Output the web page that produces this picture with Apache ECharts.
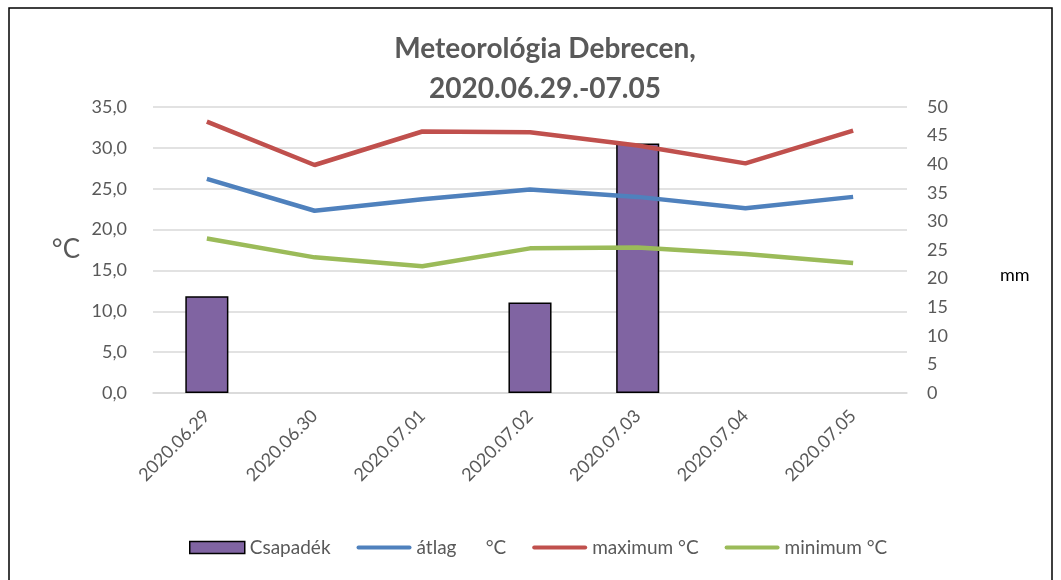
<!DOCTYPE html>
<html>
<head>
<meta charset="utf-8">
<script src="https://cdn.jsdelivr.net/npm/echarts@6/dist/echarts.min.js"></script>
<style>
html, body { margin: 0; padding: 0; background: #fff; }
#chart { width: 1061px; height: 580px; }
</style>
</head>
<body>
<div id="chart"></div>
<script>
const days = ['2020.06.29', '2020.06.30', '2020.07.01', '2020.07.02', '2020.07.03', '2020.07.04', '2020.07.05'];
const csapadek = [16.9, 0, 0, 15.8, 43.6, 0, 0];
const atlag = [26.2, 22.3, 23.7, 24.9, 24.0, 22.6, 24.0];
const maximum = [33.2, 27.9, 32.0, 31.9, 30.3, 28.1, 32.1];
const minimum = [18.9, 16.6, 15.5, 17.7, 17.8, 17.0, 15.9];
const names = ['Csapadék', 'átlag      °C', 'maximum °C', 'minimum °C'];

const font = 'Lato, "Open Sans", sans-serif';
const gray = '#595959';
// vastag vonal a jelmagyarázatban, a doboz magassága 12
const lineIcon = 'path://M0,0 M55,12 M2,4 L53,4 A2,2 0 0 1 53,8 L2,8 A2,2 0 0 1 2,4 Z';

let chart = echarts.init(document.getElementById('chart'));
const opt = {
	animation: false,
	textStyle: { fontFamily: font },
	title: {
		text: 'Meteorológia Debrecen,\n2020.06.29.-07.05',
		left: 540,
		textAlign: 'center',
		top: 24,
		textStyle: {
			fontFamily: font,
			fontSize: 28,
			fontWeight: 'bold',
			color: gray,
			lineHeight: 40
		}
	},
	graphic: [
		{
			type: 'rect',
			shape: { x: 9, y: 8, width: 1043, height: 600 },
			style: { fill: 'none', stroke: '#000', lineWidth: 1.5 },
			silent: true
		}
	],
	legend: {
		bottom: 18,
		left: 184,
		itemWidth: 55,
		itemHeight: 12,
		itemGap: 26,
		textStyle: { fontFamily: font, fontSize: 19, color: gray },
		data: [
			{ name: names[0], icon: 'rect', itemStyle: { borderColor: '#000', borderWidth: 1.5 } },
			{ name: names[1], icon: lineIcon },
			{ name: names[2], icon: lineIcon },
			{ name: names[3], icon: lineIcon }
		]
	},
	grid: { left: 153, right: 154, top: 107, bottom: 187 },
	xAxis: {
		type: 'category',
		data: days,
		axisLine: { lineStyle: { color: '#d9d9d9', width: 1.5 } },
		axisTick: { show: false },
		axisLabel: {
			rotate: 45,
			margin: 20,
			fontSize: 18,
			color: gray,
			fontFamily: font
		}
	},
	yAxis: [
		{
			type: 'value',
			min: 0,
			max: 35,
			interval: 5,
			name: '°C',
			nameLocation: 'middle',
			nameRotate: 0,
			nameGap: 73,
			nameTextStyle: { fontSize: 26, color: gray, fontFamily: font },
			axisLine: { show: false },
			axisTick: { show: false },
			splitLine: { lineStyle: { color: '#d9d9d9', width: 1.5 } },
			axisLabel: {
				margin: 26,
				fontSize: 18,
				color: gray,
				fontFamily: font,
				formatter: v => v.toFixed(1).replace('.', ',')
			}
		},
		{
			type: 'value',
			min: 0,
			max: 50,
			interval: 5,
			name: '\nmm',
			nameLocation: 'middle',
			nameRotate: 0,
			nameGap: 93,
			nameTextStyle: { fontSize: 18, color: '#000', fontFamily: font, lineHeight: 50 },
			axisLine: { show: false },
			axisTick: { show: false },
			splitLine: { show: false },
			axisLabel: {
				margin: 20,
				fontSize: 18,
				color: gray,
				fontFamily: font
			}
		}
	],
	series: [
		{
			name: names[0],
			type: 'bar',
			yAxisIndex: 1,
			barWidth: '40%',
			// nulla csapadéknál nincs oszlop
			data: csapadek.map(v => (v === 0 ? null : v)),
			itemStyle: { color: '#8064a2', borderColor: '#000', borderWidth: 1.5 }
		},
		{
			name: names[1],
			type: 'line',
			yAxisIndex: 0,
			data: atlag,
			symbol: 'none',
			lineStyle: { color: '#4f81bd', width: 4.5 },
			itemStyle: { color: '#4f81bd' }
		},
		{
			name: names[2],
			type: 'line',
			yAxisIndex: 0,
			data: maximum,
			symbol: 'none',
			lineStyle: { color: '#c0504d', width: 4.5 },
			itemStyle: { color: '#c0504d' }
		},
		{
			name: names[3],
			type: 'line',
			yAxisIndex: 0,
			data: minimum,
			symbol: 'none',
			lineStyle: { color: '#9bbb59', width: 4.5 },
			itemStyle: { color: '#9bbb59' }
		}
	]
};
chart.setOption(opt);
</script>
</body>
</html>
